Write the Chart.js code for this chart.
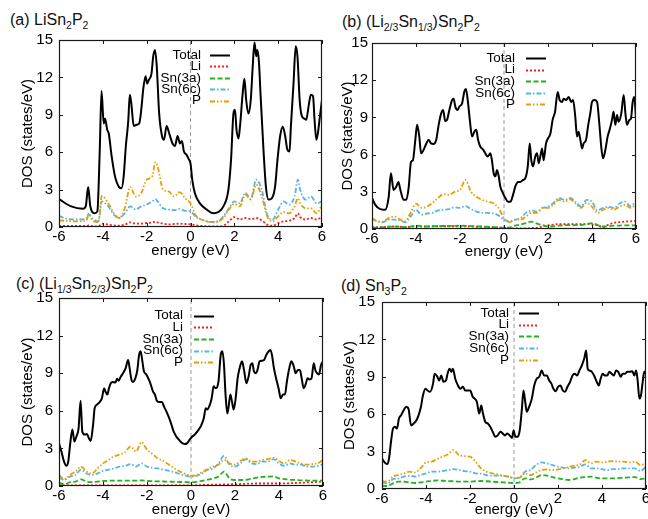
<!DOCTYPE html>
<html>
<head>
<meta charset="utf-8">
<script src="https://cdn.jsdelivr.net/npm/chart.js@4.4.1/dist/chart.umd.min.js"></script>
<style>
  body { margin: 0; background: #fff; width: 648px; height: 519px; overflow: hidden; position: relative;
         font-family: "Liberation Sans", Arial, Helvetica, sans-serif; }
  canvas { position: absolute; }
  .ttl { position: absolute; font-size: 16px; line-height: 16px; white-space: nowrap; color: #111; }
  .ttl sub { font-size: 10.5px; vertical-align: -4px; line-height: 0; }
</style>
</head>
<body>
<div class="ttl" style="left:10px;top:12px">(a) LiSn<sub>2</sub>P<sub>2</sub></div>
<div class="ttl" style="left:342px;top:14px">(b) (Li<sub>2/3</sub>Sn<sub>1/3</sub>)Sn<sub>2</sub>P<sub>2</sub></div>
<div class="ttl" style="left:16px;top:276px">(c) (Li<sub>1/3</sub>Sn<sub>2/3</sub>)Sn<sub>2</sub>P<sub>2</sub></div>
<div class="ttl" style="left:341px;top:278px">(d) Sn<sub>3</sub>P<sub>2</sub></div>
<script>
// ---- axes ----
const energyTicks = [-6, -4, -2, 0, 2, 4, 6];
const dosTicks = [0, 3, 6, 9, 12, 15];
const fermiE = 0;
const seriesNames = ['Total', 'Li', 'Sn(3a)', 'Sn(6c)', 'P'];

// shared energy grid for the partial DOS curves
const quarterE = [-6,-5.75,-5.5,-5.25,-5,-4.75,-4.5,-4.25,-4,-3.75,-3.5,-3.25,-3,-2.75,-2.5,-2.25,-2,-1.75,-1.5,-1.25,-1,-0.75,-0.5,-0.25,0,0.25,0.5,0.75,1,1.25,1.5,1.75,2,2.25,2.5,2.75,3,3.25,3.5,3.75,4,4.25,4.5,4.75,5,5.25,5.5,5.75,6];

// ---- (a) LiSn2P2 ----
const aTotalE = [-6,-5.44,-4.9,-4.78,-4.67,-4.57,-4.37,-4.25,-4.14,-4.06,-3.96,-3.9,-3.8,-3.73,-3.6,-3.45,-3.26,-3.15,-3.05,-2.95,-2.84,-2.77,-2.7,-2.59,-2.46,-2.34,-2.23,-2.16,-2.05,-1.98,-1.9,-1.78,-1.7,-1.62,-1.54,-1.43,-1.3,-1.21,-1.09,-0.97,-0.82,-0.71,-0.59,-0.48,-0.39,-0.3,-0.18,-0.08,0,0.08,0.2,0.43,0.74,1.04,1.27,1.5,1.73,1.85,1.96,2.03,2.1,2.19,2.26,2.38,2.46,2.54,2.64,2.75,2.84,2.92,3.0,3.05,3.12,3.2,3.33,3.44,3.56,3.71,3.86,3.97,4.09,4.21,4.32,4.42,4.52,4.58,4.7,4.8,4.88,4.98,5.08,5.19,5.28,5.39,5.49,5.59,5.66,5.74,5.81,5.92,6];
const aTotal = [2.24,1.65,1.47,1.65,3.2,1.65,1.1,1.25,6.2,10.9,8.3,8.7,7.8,7.5,5.7,4.1,3.2,3.1,4.05,6.5,8.5,10.6,9.9,8.1,8.2,8.3,9.7,11.0,12.1,11.5,11.8,12.3,13.7,14.2,12.9,9.1,7.3,7.0,8.1,7.5,6.7,6.5,7.3,6.7,6.9,6.05,5.8,5.45,5.1,3.8,2.7,1.9,1.4,1.1,1.2,1.65,3.0,5.4,9.1,9.4,7.8,7.1,8.1,10.7,11.9,10.2,9.1,10.2,12.9,14.8,13.7,14.2,13.3,10.5,6.2,3.25,2.2,2.3,3.25,5.4,7.3,8.05,7.3,6.2,6.05,8.05,11.5,14.5,13.7,10.2,8.9,8.7,8.6,9.7,10.6,10.5,8.6,7.0,7.5,9.1,10.2];
const aPartE = [-6,-5.75,-5.5,-5.25,-5,-4.75,-4.65,-4.45,-4.2,-4.05,-3.75,-3.5,-3.25,-3,-2.75,-2.5,-2.25,-2,-1.75,-1.6,-1.5,-1.25,-1,-0.75,-0.5,-0.25,0,0.25,0.5,0.75,1,1.25,1.5,1.75,2,2.25,2.5,2.75,3,3.25,3.5,3.75,4,4.25,4.5,4.75,4.9,5,5.25,5.5,5.75,6];
const aLi = [0.08,0.08,0.08,0.08,0.08,0.08,0.12,0.06,0.05,0.27,0.19,0.13,0.1,0.19,0.37,0.27,0.27,0.32,0.37,0.43,0.37,0.27,0.21,0.24,0.27,0.24,0.21,0.13,0.08,0.05,0.05,0.05,0.1,0.45,0.8,0.6,0.72,0.64,0.72,0.53,0.19,0.1,0.32,0.45,0.5,0.72,1.1,0.8,0.6,0.72,0.6,0.8];
const aSn3a = [];
const aSn6c = [0.9,0.72,0.64,0.6,0.6,0.67,1.05,0.65,0.45,2.05,1.65,1.0,0.72,1.1,1.65,1.4,1.65,1.8,2.05,2.25,2.05,1.5,1.4,1.35,1.45,1.3,1.25,0.8,0.6,0.45,0.4,0.45,0.85,1.5,2.05,1.9,2.75,2.25,3.8,3.0,1.0,0.6,1.4,2.05,1.8,2.45,3.8,3.0,2.2,2.45,1.9,2.05];
const aP = [0.53,0.5,0.48,0.45,0.45,0.53,1.0,0.5,0.37,2.5,1.9,1.1,0.72,1.5,3.2,2.45,2.7,3.8,4.05,5.2,4.85,3.0,2.85,2.45,2.8,2.3,1.9,0.9,0.6,0.45,0.37,0.45,0.72,1.4,1.85,1.65,2.6,2.2,3.4,2.45,0.85,0.45,0.85,1.2,1.1,1.65,2.3,1.9,1.5,1.5,1.1,1.8];

// ---- (b) (Li2/3Sn1/3)Sn2P2 ----
const bTotalE = [-6,-5.85,-5.62,-5.4,-5.24,-5.14,-5.02,-4.9,-4.8,-4.71,-4.56,-4.44,-4.33,-4.23,-4.14,-4.03,-3.95,-3.85,-3.77,-3.65,-3.53,-3.42,-3.32,-3.2,-3.08,-2.97,-2.86,-2.77,-2.67,-2.59,-2.47,-2.36,-2.29,-2.21,-2.11,-2.02,-1.91,-1.8,-1.73,-1.64,-1.56,-1.45,-1.35,-1.26,-1.18,-1.08,-0.95,-0.85,-0.74,-0.62,-0.55,-0.47,-0.39,-0.32,-0.24,-0.17,-0.05,0.06,0.18,0.29,0.41,0.52,0.64,0.74,0.86,0.97,1.08,1.17,1.24,1.32,1.42,1.5,1.58,1.65,1.73,1.8,1.91,2.0,2.11,2.21,2.32,2.44,2.53,2.64,2.71,2.83,2.94,3.05,3.14,3.24,3.32,3.39,3.47,3.55,3.62,3.73,3.82,3.92,4.0,4.11,4.23,4.33,4.42,4.5,4.61,4.71,4.8,4.91,4.98,5.06,5.14,5.21,5.33,5.44,5.52,5.59,5.7,5.77,5.85,5.92,6];
const bTotal = [2.5,1.95,1.6,1.55,2.6,4.5,3.15,3.4,3.8,3.15,2.35,2.35,3.4,5.4,5.55,7.2,8.4,7.45,6.1,6.4,6.9,7.2,6.9,6.85,7.2,8.4,9.3,9.6,8.7,8.8,9.7,10.4,10.5,9.85,9.6,9.9,10.1,11.1,11.3,10.25,8.9,7.45,7.85,8.0,7.2,6.65,6.4,6.1,5.85,6.1,5.55,4.5,4.25,4.75,4.25,3.45,2.9,2.5,2.2,2.2,2.75,3.45,3.8,3.8,3.95,4.1,5.05,6.9,5.55,5.05,5.85,6.1,5.3,5.85,6.5,5.55,6.9,7.3,7.7,8.8,9.45,11.05,10.4,10.25,10.5,10.4,10.65,10.25,10.4,9.05,7.45,7.85,7.2,6.5,6.9,7.2,8.3,9.3,10.25,10.4,10.25,8.55,6.65,5.7,6.4,7.45,8.0,8.8,9.45,8.4,9.2,8.65,9.3,10.8,9.3,8.4,8.8,8.9,10.25,10.65,8.9];
const bLi = [0.15,0.15,0.15,0.18,0.2,0.18,0.15,0.18,0.22,0.2,0.2,0.22,0.22,0.22,0.22,0.22,0.22,0.22,0.2,0.18,0.18,0.16,0.15,0.12,0.1,0.06,0.05,0.05,0.05,0.08,0.1,0.2,0.3,0.35,0.4,0.4,0.4,0.4,0.4,0.4,0.38,0.3,0.15,0.35,0.5,0.55,0.6,0.62,0.65];
const bSn3a = [0.1,0.12,0.15,0.18,0.2,0.18,0.15,0.2,0.27,0.22,0.2,0.22,0.24,0.24,0.24,0.26,0.27,0.26,0.24,0.22,0.2,0.18,0.15,0.12,0.1,0.13,0.27,0.35,0.48,0.6,0.43,0.32,0.2,0.22,0.27,0.3,0.32,0.32,0.32,0.4,0.48,0.32,0.2,0.22,0.27,0.28,0.3,0.3,0.3];
const bSn6c = [0.88,0.62,0.54,0.75,0.75,0.7,0.54,1.0,1.55,1.15,1.25,1.3,1.5,1.55,1.6,1.75,1.7,1.85,1.6,1.4,1.3,1.3,1.25,1.1,0.75,0.62,0.75,0.88,1.3,1.5,1.4,1.7,1.8,2.1,2.5,2.35,2.5,2.2,1.8,2.35,2.2,1.5,1.7,1.8,1.7,2.05,2.2,1.85,2.2];
const bP = [0.8,0.62,0.6,0.88,1.0,0.8,0.62,1.3,2.05,1.7,1.8,2.1,2.5,2.8,2.75,3.0,3.15,3.95,3.0,2.6,2.35,2.2,2.1,1.7,0.88,0.54,0.75,0.75,1.0,1.3,1.3,1.7,1.7,1.95,2.35,2.2,2.4,2.05,1.7,2.1,1.8,1.3,1.55,1.7,1.55,1.8,1.95,1.7,1.95];

// ---- (c) (Li1/3Sn2/3)Sn2P2 ----
const cTotalE = [-6,-5.89,-5.77,-5.67,-5.58,-5.48,-5.39,-5.3,-5.21,-5.11,-5.02,-4.94,-4.83,-4.73,-4.64,-4.56,-4.45,-4.38,-4.27,-4.15,-4.05,-3.95,-3.88,-3.8,-3.73,-3.65,-3.55,-3.44,-3.36,-3.29,-3.2,-3.09,-2.97,-2.86,-2.79,-2.71,-2.64,-2.53,-2.44,-2.36,-2.29,-2.21,-2.14,-2.03,-1.92,-1.83,-1.73,-1.64,-1.55,-1.42,-1.32,-1.23,-1.12,-1.0,-0.89,-0.79,-0.67,-0.55,-0.42,-0.29,-0.18,-0.06,0.06,0.17,0.29,0.39,0.48,0.58,0.67,0.74,0.85,0.94,1.03,1.12,1.25,1.35,1.43,1.5,1.57,1.65,1.7,1.79,1.86,1.94,2.03,2.12,2.21,2.32,2.41,2.52,2.62,2.71,2.79,2.86,2.94,3.02,3.12,3.23,3.32,3.42,3.53,3.61,3.68,3.77,3.88,3.98,4.08,4.18,4.27,4.36,4.45,4.56,4.67,4.76,4.86,4.95,5.03,5.12,5.21,5.3,5.39,5.48,5.58,5.65,5.73,5.82,5.91,6];
const cTotal = [3.4,2.75,1.95,1.62,1.95,3.55,4.5,3.55,3.95,4.6,6.8,4.35,4.1,4.15,3.8,3.6,4.9,6.2,6.5,6.7,7.0,7.8,7.5,7.3,7.8,8.2,8.3,8.25,8.55,8.4,8.7,9.0,9.4,10.05,9.4,8.5,8.3,8.6,9.25,10.45,10.75,9.95,9.15,8.9,8.5,8.1,7.55,7.3,6.8,6.7,6.7,6.35,5.95,5.45,4.9,4.35,3.95,3.7,3.45,3.35,3.4,3.7,3.95,4.1,4.35,4.6,4.9,5.4,6.2,6.1,6.45,7.0,7.95,7.8,8.35,10.45,10.75,9.65,7.3,5.8,6.2,7.3,6.75,6.1,7.0,8.6,9.4,9.95,9.25,8.2,8.75,9.65,9.8,9.15,9.0,9.25,9.95,10.0,10.05,10.45,10.75,10.85,10.45,9.4,8.5,7.8,7.0,7.3,7.3,8.35,9.25,9.95,9.55,9.0,9.25,9.25,8.6,7.8,8.1,8.6,8.5,8.6,9.8,9.25,9.0,8.9,9.65,9.95];
const cLi = [0.05,0.05,0.05,0.05,0.05,0.05,0.05,0.05,0.05,0.05,0.05,0.05,0.05,0.05,0.05,0.05,0.05,0.05,0.05,0.05,0.05,0.05,0.05,0.05,0.05,0.06,0.08,0.09,0.1,0.11,0.12,0.13,0.15,0.16,0.18,0.19,0.2,0.2,0.2,0.2,0.2,0.21,0.22,0.24,0.25,0.28,0.3,0.33,0.35];
const cSn3a = [0.27,0.13,0.3,0.35,0.53,0.35,0.3,0.35,0.4,0.42,0.43,0.43,0.43,0.43,0.43,0.45,0.4,0.38,0.37,0.36,0.35,0.33,0.32,0.31,0.3,0.33,0.4,0.5,0.6,0.75,1.15,0.6,0.48,0.48,0.5,0.58,0.67,0.72,0.75,0.77,0.6,0.55,0.5,0.48,0.45,0.44,0.43,0.43,0.43];
const cSn6c = [0.67,0.48,0.75,0.88,1.3,1.0,0.88,1.0,1.2,1.3,1.4,1.55,1.6,1.75,1.55,1.8,1.55,1.45,1.4,1.3,1.2,1.1,0.95,0.83,0.75,0.8,1.0,1.3,1.4,1.8,2.4,1.7,1.55,1.8,2.15,1.8,1.75,1.95,1.95,2.15,1.8,1.6,1.8,1.7,1.7,1.55,1.55,1.6,1.75];
const cP = [0.88,0.56,0.88,1.15,1.55,1.15,1.0,1.4,1.8,2.08,2.35,2.5,2.7,3.15,2.75,3.5,2.9,2.55,2.2,2.0,1.7,1.4,1.15,0.95,0.83,0.88,1.1,1.35,1.55,1.7,2.08,1.8,1.7,2.0,2.2,1.95,1.95,2.08,2.15,2.25,2.0,1.8,2.08,1.95,1.8,1.7,1.75,1.8,2.08];

// ---- (d) Sn3P2 ----
const dTotalE = [-6,-5.89,-5.77,-5.68,-5.59,-5.5,-5.41,-5.32,-5.23,-5.14,-5.02,-4.9,-4.79,-4.68,-4.56,-4.44,-4.34,-4.23,-4.14,-4.03,-3.93,-3.81,-3.68,-3.61,-3.5,-3.4,-3.31,-3.2,-3.09,-3.02,-2.93,-2.85,-2.78,-2.67,-2.56,-2.44,-2.32,-2.22,-2.09,-1.99,-1.88,-1.79,-1.69,-1.58,-1.49,-1.41,-1.31,-1.19,-1.08,-0.97,-0.85,-0.74,-0.62,-0.51,-0.41,-0.3,-0.2,-0.09,-0.02,0.06,0.17,0.26,0.36,0.43,0.51,0.58,0.69,0.81,0.92,1.03,1.15,1.26,1.37,1.49,1.6,1.7,1.79,1.9,2.0,2.11,2.22,2.32,2.43,2.55,2.66,2.76,2.87,2.97,3.08,3.19,3.28,3.35,3.43,3.54,3.64,3.76,3.85,3.94,4.03,4.13,4.24,4.33,4.44,4.54,4.64,4.74,4.85,4.94,5.05,5.15,5.27,5.38,5.47,5.55,5.62,5.7,5.77,5.85,5.92,6];
const dTotal = [2.45,2.15,2.0,2.45,3.8,4.85,5.0,4.85,5.65,5.9,6.3,6.6,6.4,5.1,5.25,5.5,5.9,6.6,7.5,8.05,7.9,7.8,8.45,9.25,9.05,8.7,9.1,8.6,8.7,9.25,9.65,9.4,9.65,8.85,8.35,8.05,8.2,7.9,7.9,7.9,7.4,7.25,7.0,6.05,6.7,6.05,5.4,5.25,5.0,4.6,4.2,4.3,4.6,4.45,4.3,4.45,4.3,4.1,4.7,4.2,4.2,4.7,6.45,7.9,7.0,6.2,6.6,7.25,8.3,8.85,9.0,9.5,9.1,9.1,8.7,8.45,8.05,7.85,8.2,8.3,7.9,7.8,8.2,8.6,9.1,9.25,9.1,9.5,9.9,10.45,11.1,9.65,9.5,9.4,9.1,8.6,8.3,8.85,9.25,9.1,9.1,9.4,9.25,9.1,9.5,9.4,9.0,9.25,9.25,9.4,9.4,9.45,9.1,9.5,8.7,7.25,7.5,8.6,9.4,9.25];
const dLi = [];
const dSn3a = [0.27,0.24,0.45,0.59,0.59,0.53,0.48,0.53,0.59,0.64,0.69,0.66,0.64,0.62,0.59,0.59,0.59,0.62,0.64,0.62,0.59,0.56,0.53,0.5,0.48,0.53,0.85,0.77,0.91,1.12,1.07,0.96,0.85,0.78,0.72,0.8,0.91,0.96,0.99,0.9,0.85,0.85,0.85,0.88,0.91,0.94,0.96,0.8,0.85];
const dSn6c = [0.53,0.45,0.8,0.85,0.99,1.07,0.99,1.12,1.25,1.39,1.39,1.44,1.52,1.6,1.52,1.44,1.39,1.25,1.23,1.12,1.07,1.07,1.04,0.99,0.85,0.91,1.39,1.52,1.92,2.13,2.05,1.92,1.79,1.71,1.65,1.71,1.79,1.97,1.65,1.65,1.6,1.52,1.6,1.6,1.65,1.65,1.65,1.44,1.79];
const dP = [0.64,0.59,1.0,1.12,1.25,1.39,1.33,1.65,2.13,2.19,2.4,2.59,2.78,3.12,2.72,2.64,2.59,2.19,1.65,1.39,1.25,1.17,1.07,0.99,0.91,0.91,1.25,1.12,1.33,1.52,1.57,1.52,1.57,1.65,1.79,1.87,1.97,2.32,2.05,2.19,2.13,2.19,2.24,2.19,2.19,2.13,2.19,1.92,2.05];

// ---- styling ----
const FONT = '"Liberation Sans", Arial, Helvetica, sans-serif';
const styles = [
  { color: '#000000', width: 2, dash: [] },
  { color: '#ff1a1a', width: 1.8, dash: [2, 2] },
  { color: '#1fb31f', width: 1.8, dash: [5, 2.5] },
  { color: '#56b4e9', width: 1.8, dash: [5, 2, 1.5, 2] },
  { color: '#e69f00', width: 1.8, dash: [5, 2, 1.5, 2, 1.5, 2] },
];

function pts(es, ys) {
  const n = Math.min(es.length, ys.length);
  const out = [];
  for (let i = 0; i < n; i++) out.push({ x: es[i], y: ys[i] });
  return out;
}

const panels = [
  { box: [0, 28, 332, 232], yw: 59, padR: 10, xh: 33, yTitlePad: 19, yTickPad: 6,
    legend: { tr: 142, y0: 15, dy: 11.4, gap: 9, len: 20 },
    series: [pts(aTotalE, aTotal), pts(aPartE, aLi), pts(aPartE, aSn3a), pts(aPartE, aSn6c), pts(aPartE, aP)] },
  { box: [312, 31, 336, 230], yw: 60, padR: 12, xh: 32, yTitlePad: 27, yTickPad: 4,
    legend: { tr: 143, y0: 15, dy: 11.6, gap: 11, len: 20 },
    series: [pts(bTotalE, bTotal), pts(quarterE, bLi), pts(quarterE, bSn3a), pts(quarterE, bSn6c), pts(quarterE, bP)] },
  { box: [0, 286, 332, 233], yw: 59, padR: 9, xh: 33, yTitlePad: 19, yTickPad: 6,
    legend: { tr: 124, y0: 17.5, dy: 11.7, gap: 11, len: 20 },
    series: [pts(cTotalE, cTotal), pts(quarterE, cLi), pts(quarterE, cSn3a), pts(quarterE, cSn6c), pts(quarterE, cP)] },
  { box: [322, 290, 326, 229], yw: 60, padR: 2, xh: 30, yTitlePad: 19, yTickPad: 7,
    legend: { tr: 127, y0: 11, dy: 11.7, gap: 10, len: 20 },
    series: [pts(dTotalE, dTotal), pts(quarterE, dLi), pts(quarterE, dSn3a), pts(quarterE, dSn6c), pts(quarterE, dP)] },
];

// box border with inward ticks on all four sides (gnuplot look)
const framePlugin = {
  id: 'frame',
  afterDraw(chart) {
    const { ctx, chartArea: a, scales: { x, y } } = chart;
    ctx.save();
    ctx.strokeStyle = '#1a1a1a';
    ctx.lineWidth = 1.2;
    ctx.setLineDash([]);
    ctx.strokeRect(a.left + 0.5, a.top + 0.5, a.right - a.left - 1, a.bottom - a.top - 1);
    ctx.lineWidth = 1;
    ctx.beginPath();
    energyTicks.forEach(v => {
      const px = Math.round(x.getPixelForValue(v)) + 0.5;
      ctx.moveTo(px, a.bottom); ctx.lineTo(px, a.bottom - 4);
      ctx.moveTo(px, a.top); ctx.lineTo(px, a.top + 4);
    });
    dosTicks.forEach(v => {
      const py = Math.round(y.getPixelForValue(v)) + 0.5;
      ctx.moveTo(a.left, py); ctx.lineTo(a.left + 4, py);
      ctx.moveTo(a.right, py); ctx.lineTo(a.right - 4, py);
    });
    ctx.stroke();
    ctx.restore();
  }
};

// key inside the plot: right-aligned names, line sample to the right
const keyPlugin = {
  id: 'key',
  afterDraw(chart, args, opts) {
    const { ctx, chartArea: a } = chart;
    ctx.save();
    ctx.font = '13.5px ' + FONT;
    ctx.fillStyle = '#000';
    ctx.textAlign = 'right';
    ctx.textBaseline = 'middle';
    seriesNames.forEach((name, i) => {
      const yy = a.top + opts.y0 + i * opts.dy;
      const xr = a.left + opts.tr;
      ctx.fillText(name, xr, yy);
      const s = styles[i];
      ctx.strokeStyle = s.color;
      ctx.lineWidth = s.width;
      ctx.setLineDash(s.dash);
      ctx.beginPath();
      ctx.moveTo(xr + opts.gap, Math.round(yy) + 0.5);
      ctx.lineTo(xr + opts.gap + opts.len, Math.round(yy) + 0.5);
      ctx.stroke();
    });
    ctx.restore();
  }
};

Chart.defaults.font.family = FONT;
Chart.defaults.color = '#000';

panels.forEach(p => {
  const cv = document.createElement('canvas');
  cv.width = p.box[2];
  cv.height = p.box[3];
  cv.style.left = p.box[0] + 'px';
  cv.style.top = p.box[1] + 'px';
  document.body.appendChild(cv);

  const datasets = p.series.map((data, i) => ({
    label: seriesNames[i],
    data,
    borderColor: styles[i].color,
    borderWidth: styles[i].width,
    borderDash: styles[i].dash,
    cubicInterpolationMode: 'monotone',
    pointRadius: 0,
    fill: false,
    order: 5 - i,
  }));
  datasets.push({
    label: 'EF',
    data: [{ x: fermiE, y: dosTicks[0] }, { x: fermiE, y: dosTicks[dosTicks.length - 1] }],
    borderColor: '#9a9a9a',
    borderWidth: 1,
    borderDash: [4, 3],
    tension: 0,
    pointRadius: 0,
    order: 10,
  });

  new Chart(cv.getContext('2d'), {
    type: 'line',
    data: { datasets },
    plugins: [framePlugin, keyPlugin],
    options: {
      responsive: false,
      animation: false,
      devicePixelRatio: 1,
      events: [],
      layout: { padding: { left: 0, top: 12, right: p.padR, bottom: 0 } },
      plugins: { legend: { display: false }, tooltip: { enabled: false }, key: p.legend },
      scales: {
        x: {
          type: 'linear', min: energyTicks[0], max: energyTicks[energyTicks.length - 1],
          afterBuildTicks: s => { s.ticks = energyTicks.map(v => ({ value: v })); },
          ticks: { padding: 1, font: { size: 15 }, maxRotation: 0, autoSkip: false },
          grid: { display: false, drawTicks: false },
          border: { display: false },
          title: { display: true, text: 'energy (eV)', font: { size: 15 }, padding: 0 },
          afterFit: s => { s.height = p.xh; s.paddingLeft = 0; s.paddingRight = 0; },
        },
        y: {
          type: 'linear', min: dosTicks[0], max: dosTicks[dosTicks.length - 1],
          afterBuildTicks: s => { s.ticks = dosTicks.map(v => ({ value: v })); },
          ticks: { padding: p.yTickPad, font: { size: 15 } },
          grid: { display: false, drawTicks: false },
          border: { display: false },
          title: { display: true, text: 'DOS (states/eV)', font: { size: 15 }, padding: { top: p.yTitlePad, bottom: 0 } },
          afterFit: s => { s.width = p.yw; s.paddingTop = 0; s.paddingBottom = 0; },
        },
      },
    },
  });
});
</script>
</body>
</html>
